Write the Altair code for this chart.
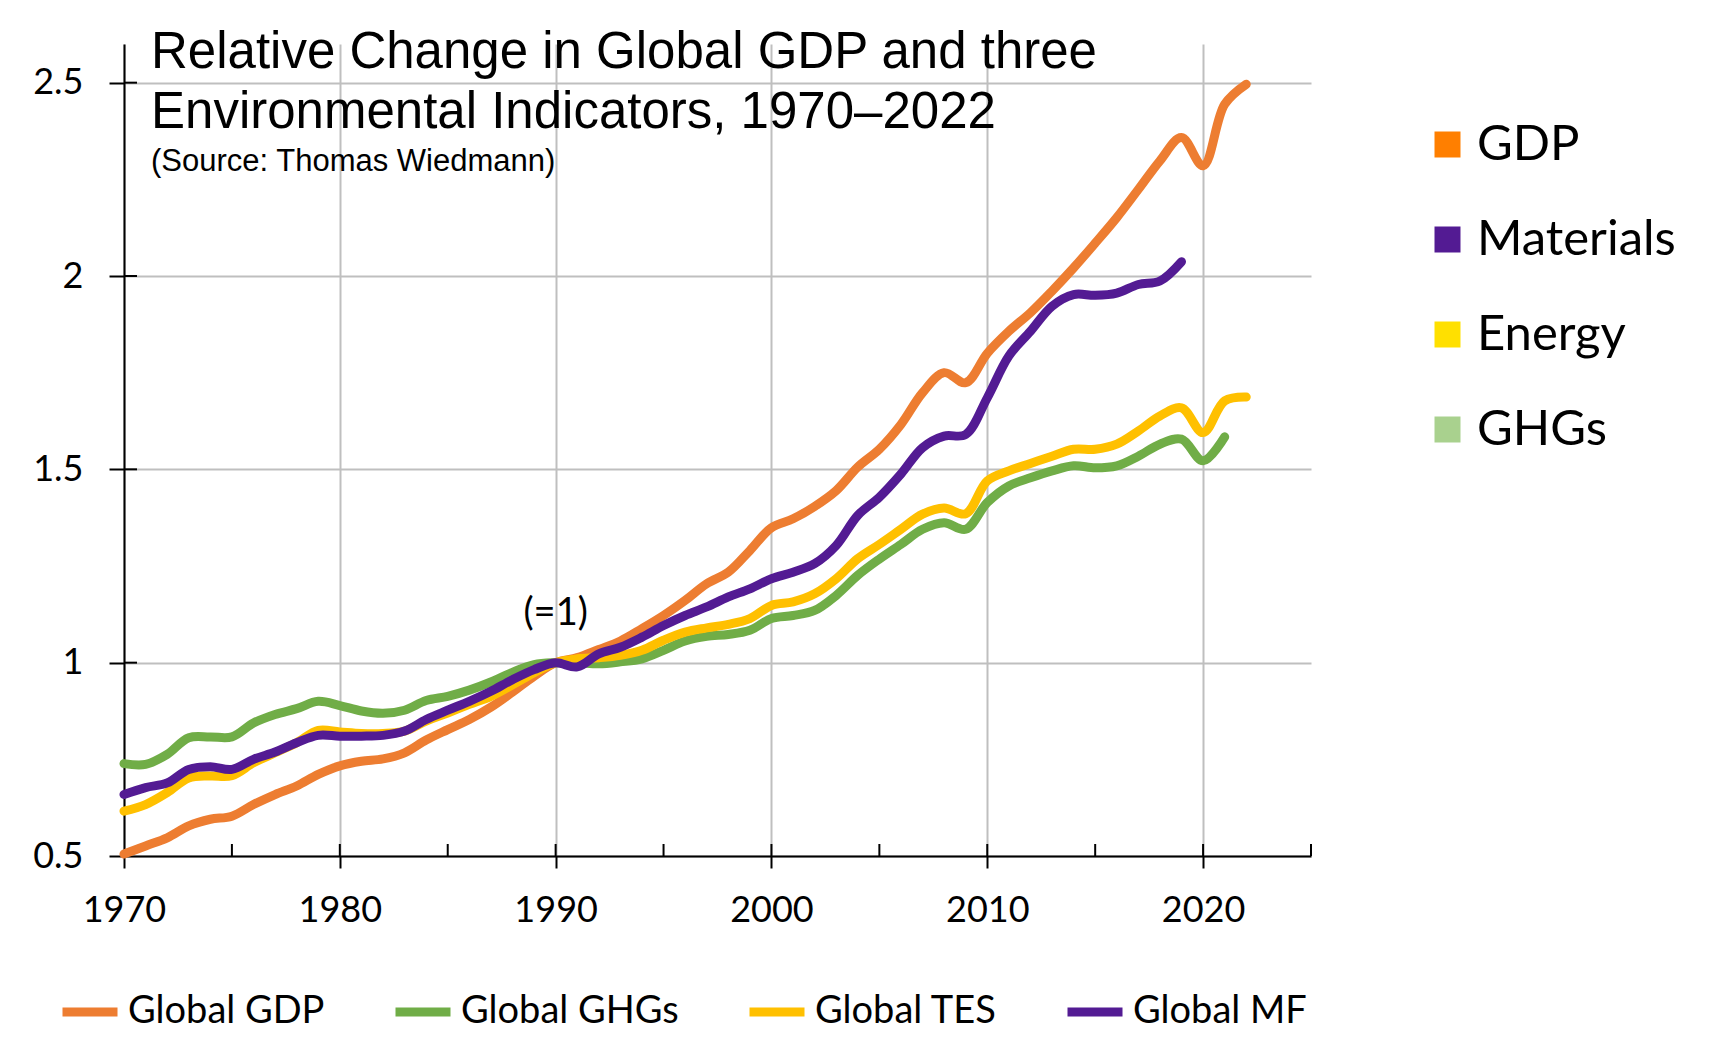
import altair as alt
import pandas as pd

# ---------------- data ----------------
years = list(range(1970, 2023))

gdp = [0.505, 0.526, 0.547, 0.578, 0.595, 0.603, 0.633, 0.659, 0.681, 0.711,
       0.733, 0.745, 0.751, 0.767, 0.800, 0.827, 0.853, 0.885, 0.924, 0.965,
       1.000, 1.013, 1.034, 1.056, 1.088, 1.122, 1.161, 1.204, 1.234, 1.290,
       1.349, 1.372, 1.404, 1.445, 1.506, 1.552, 1.616, 1.698, 1.750, 1.724,
       1.800, 1.857, 1.905, 1.961, 2.021, 2.085, 2.151, 2.224, 2.298, 2.358,
       2.285, 2.444, 2.496]

ghg = [0.739, 0.737, 0.763, 0.806, 0.808, 0.808, 0.844, 0.866, 0.881, 0.900,
       0.889, 0.875, 0.869, 0.877, 0.902, 0.913, 0.929, 0.950, 0.975, 0.995,
       1.000, 1.000, 0.997, 1.002, 1.010, 1.032, 1.056, 1.068, 1.073, 1.084,
       1.114, 1.122, 1.135, 1.174, 1.226, 1.268, 1.306, 1.345, 1.362, 1.345,
       1.414, 1.457, 1.478, 1.496, 1.509, 1.504, 1.509, 1.534, 1.565, 1.578,
       1.522, 1.584]

tes = [0.616, 0.633, 0.664, 0.702, 0.707, 0.708, 0.741, 0.767, 0.793, 0.825,
       0.821, 0.817, 0.817, 0.823, 0.849, 0.870, 0.892, 0.913, 0.943, 0.974,
       1.000, 1.010, 1.013, 1.019, 1.032, 1.058, 1.079, 1.090, 1.099, 1.114,
       1.148, 1.157, 1.178, 1.217, 1.269, 1.306, 1.345, 1.384, 1.400, 1.385,
       1.470, 1.496, 1.515, 1.534, 1.552, 1.552, 1.565, 1.599, 1.638, 1.659,
       1.595, 1.677, 1.687]

mf = [0.659, 0.677, 0.689, 0.724, 0.731, 0.724, 0.750, 0.769, 0.793, 0.812,
      0.810, 0.810, 0.812, 0.823, 0.853, 0.877, 0.900, 0.926, 0.956, 0.982,
      1.000, 0.989, 1.023, 1.040, 1.066, 1.096, 1.122, 1.144, 1.170, 1.191,
      1.217, 1.234, 1.256, 1.303, 1.381, 1.428, 1.488, 1.556, 1.586, 1.590,
      1.685, 1.793, 1.857, 1.922, 1.952, 1.950, 1.956, 1.978, 1.987, 2.037]

series_names = ["Global GDP", "Global GHGs", "Global TES", "Global MF"]
line_colors = ["#ED7D31", "#70AD47", "#FFC000", "#531B93"]

key_names = ["GDP", "Materials", "Energy", "GHGs"]
key_colors = ["#FF7F00", "#531B93", "#FFE000", "#A9D18E"]

x_tick_values = [1970, 1980, 1990, 2000, 2010, 2020]
x_minor_ticks = [1975, 1980, 1985, 1990, 1995, 2000, 2005, 2010, 2015, 2020, 2025]
y_tick_values = [0.5, 1.0, 1.5, 2.0, 2.5]
y_inner_ticks = [1.0, 1.5, 2.0, 2.5]

title_line1 = "Relative Change in Global GDP and three"
title_line2 = "Environmental Indicators, 1970\u20132022"
subtitle = "(Source: Thomas Wiedmann)"
anno_text = ["(=1)"]
anno_year = [1990]
anno_value = [1.0]

# ---------------- tables ----------------
rows = []
for name, vals in zip(series_names, [gdp, ghg, tes, mf]):
    for yr, v in zip(years, vals):
        rows.append({"series": name, "year": yr, "value": v})
df = pd.DataFrame(rows)

key_df = pd.DataFrame({"key": key_names, "year": [1990] * 4, "value": [1.0] * 4})
xt_df = pd.DataFrame({"year": x_minor_ticks})
yt_df = pd.DataFrame({"value": y_inner_ticks})
anno_df = pd.DataFrame({"t": anno_text, "year": anno_year, "value": anno_value})
one = pd.DataFrame({"a": [0]})

# ---------------- layout ----------------
W, H = 1187, 812
FONT = "Lato"

x_scale = alt.Scale(domain=[1970, 2025], nice=False, zero=False)
y_scale = alt.Scale(domain=[0.5, 2.6], nice=False, zero=False)

x_axis = alt.Axis(values=x_tick_values, format="d", title=None, grid=True,
                  tickSize=12, labelPadding=25, labelFontSize=36, labelFont=FONT,
                  labelColor="black", labelFlush=False, labelOverlap=False)
y_axis = alt.Axis(values=y_tick_values, format="~g", title=None, grid=True,
                  tickSize=15, labelPadding=26, labelFontSize=36, labelFont=FONT,
                  labelColor="black", labelFlush=False, labelOverlap=False)

X = alt.X("year:Q", scale=x_scale, axis=x_axis)
Y = alt.Y("value:Q", scale=y_scale, axis=y_axis)

lines = alt.Chart(df).mark_line(
    strokeWidth=9, interpolate="catmull-rom", strokeCap="round", strokeJoin="round"
).encode(
    x=X, y=Y,
    color=alt.Color(
        "series:N", sort=series_names,
        scale=alt.Scale(domain=series_names, range=line_colors),
        legend=alt.Legend(
            orient="none", legendX=-66, legendY=936, direction="horizontal",
            title=None, symbolType="stroke", symbolSize=55 * 55,
            symbolStrokeWidth=9, symbolOpacity=1, labelFont=FONT,
            labelFontSize=38, labelColor="black", labelOffset=6,
            columnPadding=52, labelLimit=400,
        ),
    ),
)

keys = alt.Chart(key_df).mark_square(opacity=0, size=1).encode(
    x=X, y=Y,
    fill=alt.Fill(
        "key:N", sort=key_names,
        scale=alt.Scale(domain=key_names, range=key_colors),
        legend=alt.Legend(
            orient="none", legendX=1299, legendY=76, direction="vertical",
            title=None, symbolType="square", symbolSize=676, symbolOpacity=1,
            symbolStrokeWidth=0, labelFont=FONT, labelFontSize=49,
            labelColor="black", labelOffset=5, rowPadding=45, labelLimit=400,
        ),
    ),
)

x_inner = alt.Chart(xt_df).mark_rule(color="black", strokeWidth=2).encode(
    x=X, y=alt.value(H - 12), y2=alt.value(H)
)
y_inner = alt.Chart(yt_df).mark_rule(color="black", strokeWidth=2).encode(
    y=Y, x=alt.value(0), x2=alt.value(13)
)

anno = alt.Chart(anno_df).mark_text(
    font=FONT, fontSize=38, baseline="alphabetic", align="center", dy=-38, color="black"
).encode(x=X, y=Y, text="t:N")

def title_text(txt, yy, size):
    return alt.Chart(one).mark_text(
        font="Liberation Sans", fontSize=size, align="left", baseline="alphabetic",
        color="black"
    ).encode(x=alt.value(27), y=alt.value(yy), text=alt.value(txt))

t1 = title_text(title_line1, 24, 51)
t2 = title_text(title_line2, 84, 51)
t3 = title_text(subtitle, 127, 31)

chart = alt.layer(lines, keys, x_inner, y_inner, anno, t1, t2, t3).properties(
    width=W, height=H,
    autosize=alt.AutoSizeParams(type="none"),
    padding={"left": 116, "top": 36, "right": 398, "bottom": 187},
    background="white",
).configure_view(stroke=None).configure_axis(
    domainColor="black", domainWidth=2, tickColor="black", tickWidth=2,
    gridColor="#BFBFBF", gridWidth=2,
).resolve_scale(color="independent")

chart.save("out.html", embed_options={"renderer": "svg", "actions": False})
